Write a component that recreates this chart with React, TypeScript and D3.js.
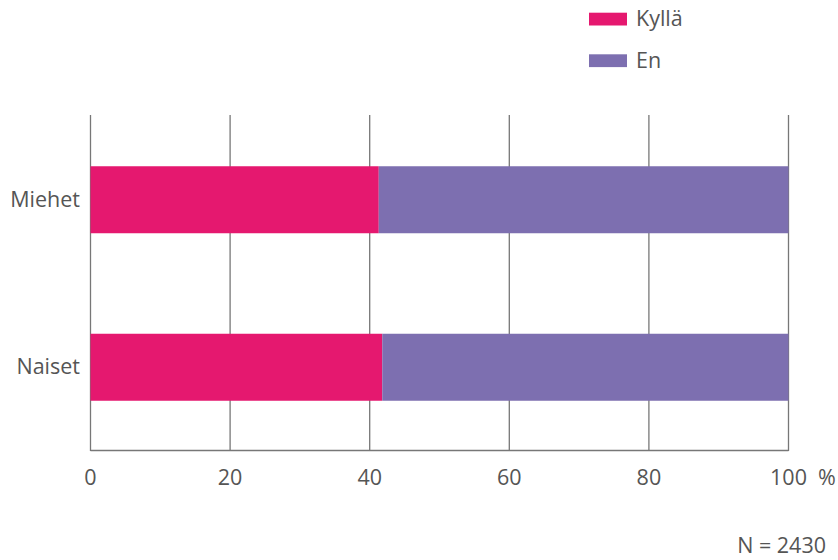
import React from "react";
import * as d3 from "d3";

const categories = ["Miehet", "Naiset"];
const seriesNames = ["Kyllä", "En"];
const kylla = [41.3, 41.8];
const en = [58.7, 58.2];
const ticks = [0, 20, 40, 60, 80, 100];
const colors = ["#E5186F", "#7D6FB0"];

export default function App() {
  const W = 838, H = 560;
  const x = d3.scaleLinear().domain([0, 100]).range([90.5, 788.5]);
  const y = d3.scaleBand().domain(categories).range([116, 451]).paddingInner(0.6).paddingOuter(0.3);
  const font = "'Open Sans', 'Noto Sans', sans-serif";
  const textColor = "#555";
  const fs = 21.5;
  const data = categories.map((c, i) => ({ c, vals: [kylla[i], en[i]] }));
  return (
    <svg width={W} height={H} style={{ position: "absolute", left: 0, top: 0 }} fontFamily={font}>
      {ticks.map((t) => (
        <line key={t} x1={x(t)} x2={x(t)} y1={115} y2={451} stroke="#777" strokeWidth={1.3} />
      ))}
      <line x1={x(0)} x2={x(100)} y1={450.5} y2={450.5} stroke="#777" strokeWidth={1.3} />
      {data.map((d) => {
        let acc = 0;
        return d.vals.map((v, j) => {
          const x0 = acc;
          acc += v;
          return (
            <rect key={d.c + j} x={x(x0)} y={y(d.c)} width={x(acc) - x(x0)} height={y.bandwidth()} fill={colors[j]} />
          );
        });
      })}
      {categories.map((c) => (
        <text key={c} x={80} y={(y(c) as number) + y.bandwidth() / 2 + 7} textAnchor="end" fontSize={fs} fill={textColor}>{c}</text>
      ))}
      {ticks.map((t) => (
        <text key={t} x={x(t)} y={485} textAnchor="middle" fontSize={fs} fill={textColor}>{t}</text>
      ))}
      <text x={827} y={485} textAnchor="middle" fontSize={fs} fill={textColor}>%</text>
      {seriesNames.map((s, i) => (
        <g key={s} transform={`translate(589, ${12.7 + i * 41.6})`}>
          <rect x={0} y={0} width={38} height={12.8} fill={colors[i]} />
          <text x={47} y={13.3} fontSize={fs} fill={textColor}>{s}</text>
        </g>
      ))}
      <text x={826} y={553} textAnchor="end" fontSize={fs} fill={textColor}>N = 2430</text>
    </svg>
  );
}
